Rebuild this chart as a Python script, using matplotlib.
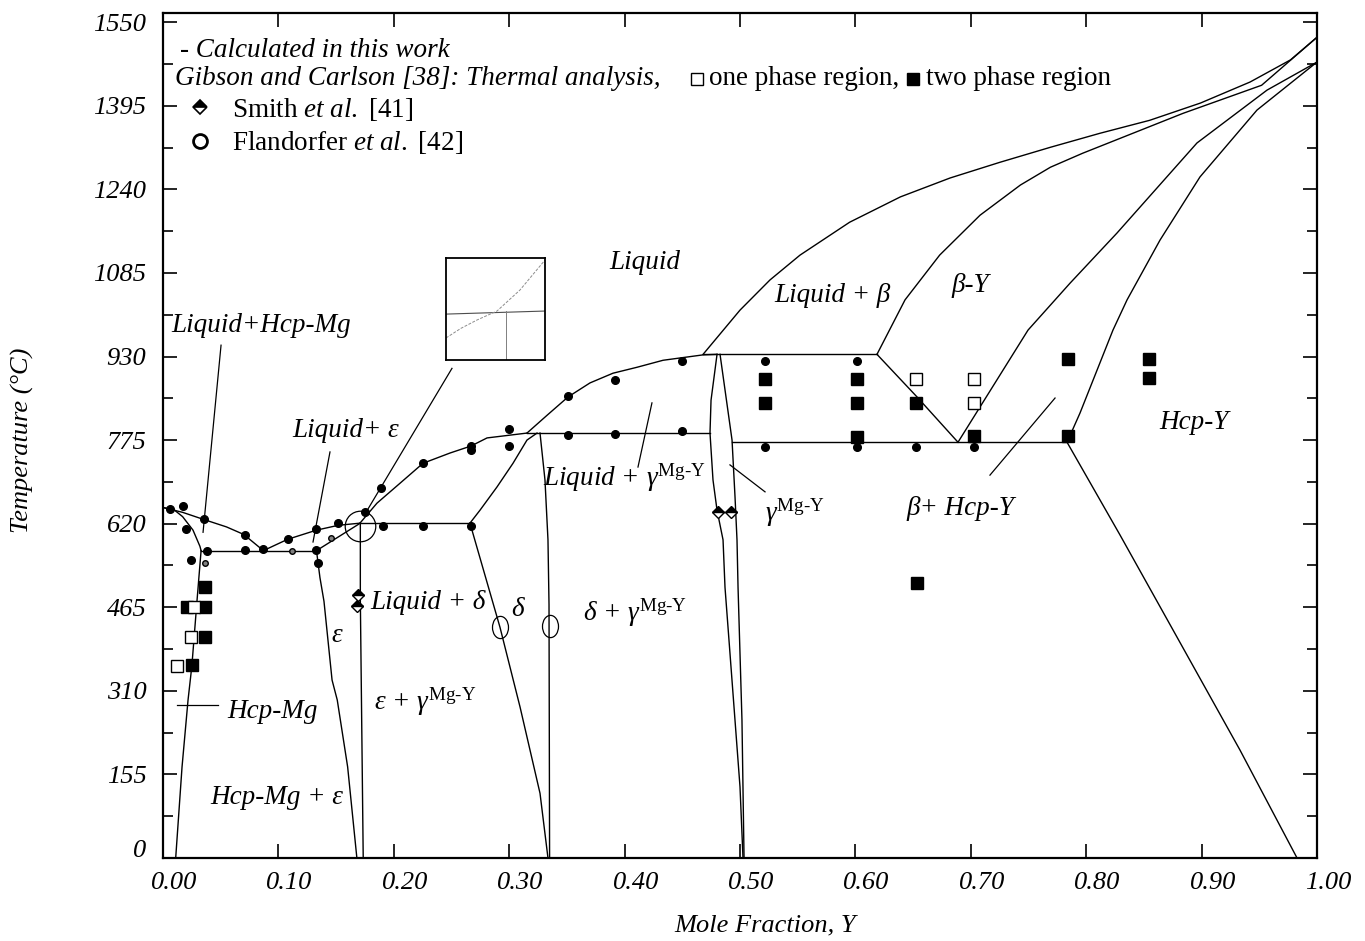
import matplotlib
matplotlib.use('Agg')
import matplotlib.pyplot as plt
import matplotlib.transforms as mtransforms
from matplotlib.path import Path

plt.rcParams['font.family'] = ['Liberation Serif', 'DejaVu Serif']
plt.rcParams['mathtext.fontset'] = 'custom'
plt.rcParams['mathtext.rm'] = 'Liberation Serif'
plt.rcParams['mathtext.it'] = 'Liberation Serif:italic'
plt.rcParams['mathtext.bf'] = 'Liberation Serif:bold'

# ---------------- data ----------------
x_ticks = [0.0, 0.1, 0.2, 0.3, 0.4, 0.5, 0.6, 0.7, 0.8, 0.9, 1.0]
x_tick_labels = ['0.00', '0.10', '0.20', '0.30', '0.40', '0.50', '0.60', '0.70', '0.80', '0.90', '1.00']
y_ticks = [0, 155, 310, 465, 620, 775, 930, 1085, 1240, 1395, 1550]
y_tick_labels = ['0', '155', '310', '465', '620', '775', '930', '1085', '1240', '1395', '1550']
y_minor = [77.5, 232.5, 387.5, 542.5, 697.5, 852.5, 1007.5, 1162.5, 1317.5, 1472.5]

# calculated phase boundaries (mole fraction Y, temperature C)
mg_liq_x = [0.0, 0.017, 0.035, 0.055, 0.070, 0.087]
mg_liq_T = [650, 641, 628, 614, 600, 570]
mg_sol_x = [0.0, 0.010, 0.017, 0.026, 0.032, 0.033]
mg_sol_T = [650, 645, 633, 608, 578, 570]
mg_solvus_x = [0.033, 0.0295, 0.025, 0.0217, 0.0165, 0.011]
mg_solvus_T = [570, 478, 356, 293, 169, 0]
eut1_x = [0.033, 0.133]
eut1_T = [570, 570]
eps_liq_x = [0.087, 0.108, 0.133, 0.152, 0.171]
eps_liq_T = [570, 591, 608, 617, 621]
eps_sol_x = [0.133, 0.171]
eps_sol_T = [570, 621]
eps_left_x = [0.133, 0.136, 0.1395, 0.1465, 0.151, 0.160, 0.168]
eps_left_T = [570, 520, 476, 330, 293, 169, 0]
eps_right_x = [0.171, 0.171, 0.1735]
eps_right_T = [621, 480, 0]
per1_x = [0.171, 0.266]
per1_T = [621, 621]
delta_liq_x = [0.1707, 0.1854, 0.2054, 0.2253, 0.2487, 0.2669, 0.2808, 0.3154]
delta_liq_T = [621, 658, 695, 732, 751, 764, 779, 788]
delta_sol_x = [0.266, 0.2747, 0.2894, 0.3033, 0.3154, 0.3241]
delta_sol_T = [621, 645, 688, 732, 775, 788]
delta_left_x = [0.266, 0.292, 0.3094, 0.3267, 0.3336]
delta_left_T = [621, 428, 280, 120, 0]
delta_right_x = [0.3267, 0.331, 0.3336, 0.3345, 0.335]
delta_right_T = [788, 701, 590, 470, 0]
per2_x = [0.3154, 0.474]
per2_T = [788, 788]
gam_liq_x = [0.3154, 0.3328, 0.3510, 0.3700, 0.3899, 0.4107, 0.4333, 0.4679, 0.4801]
gam_liq_T = [788, 821, 855, 881, 899, 910, 923, 933, 934]
gam_left_x = [0.4801, 0.4749, 0.4740, 0.4766, 0.4801, 0.4853, 0.4870, 0.4913, 0.5000, 0.5026]
gam_left_T = [934, 849, 788, 701, 645, 590, 502, 380, 132, 0]
gam_right_x = [0.4827, 0.4931, 0.4957, 0.4974, 0.4983, 0.5017, 0.5035]
gam_right_T = [934, 775, 669, 590, 502, 256, 0]
eut2_x = [0.468, 0.6187]
eut2_T = [934, 934]
eutd_x = [0.4931, 0.7834]
eutd_T = [771, 771]
beta_liq_x = [0.468, 0.500, 0.526, 0.552, 0.595, 0.639, 0.682, 0.725, 0.769, 0.812, 0.855, 0.899, 0.942, 0.977, 1.0]
beta_liq_T = [934, 1016, 1072, 1118, 1179, 1226, 1261, 1290, 1318, 1344, 1368, 1400, 1439, 1480, 1522]
beta_sol_x = [0.6187, 0.643, 0.673, 0.708, 0.743, 0.769, 0.797, 0.884, 0.952, 1.0]
beta_sol_T = [934, 1035, 1118, 1192, 1248, 1281, 1307, 1381, 1433, 1522]
beta_low_x = [0.6187, 0.6534, 0.6889]
beta_low_T = [934, 855, 771]
beta_hcp_x = [0.6889, 0.7496, 0.786, 0.8267, 0.896, 0.9567, 1.0]
beta_hcp_T = [771, 979, 1066, 1159, 1326, 1424, 1476]
hcp_beta_x = [0.7834, 0.7946, 0.8232, 0.8354, 0.864, 0.8986, 0.948, 1.0]
hcp_beta_T = [771, 825, 979, 1035, 1146, 1263, 1387, 1476]
hcp_solvus_x = [0.7834, 0.8293, 0.8752, 0.9333, 0.9827]
hcp_solvus_T = [771, 599, 423, 200, 0]

# experimental data
gc_dot_x = [0.006, 0.017, 0.0355, 0.020, 0.071, 0.087, 0.038, 0.071, 0.024, 0.108, 0.133, 0.152,
            0.133, 0.134, 0.175, 0.191, 0.225, 0.189, 0.225, 0.267, 0.267, 0.300, 0.300, 0.267,
            0.351, 0.392, 0.450, 0.351, 0.392, 0.450, 0.522, 0.601, 0.522, 0.601, 0.6525, 0.703]
gc_dot_T = [647, 653, 628, 610, 599, 573, 569, 571, 552, 591, 610, 621,
            571, 547, 641, 615, 615, 687, 732, 764, 756, 764, 795, 615,
            857, 886, 922, 784, 786, 792, 922, 922, 762, 762, 762, 762]
gc_small_x = [0.036, 0.112, 0.146]
gc_small_T = [547, 569, 593]
gc_two_x = [0.522, 0.522, 0.601, 0.601, 0.601, 0.6525, 0.703, 0.784, 0.784, 0.854, 0.854, 0.653,
            0.036, 0.021, 0.036, 0.036, 0.025]
gc_two_T = [888, 843, 888, 843, 781, 843, 782, 925, 782, 925, 890, 510,
            502, 465, 465, 409, 357]
gc_one_x = [0.6525, 0.703, 0.703, 0.027, 0.024, 0.012]
gc_one_T = [888, 888, 843, 465, 409, 356]
smith_x = [0.169, 0.168, 0.481, 0.492]
smith_T = [488, 467, 641, 641]
fland_x = [0.292, 0.335]
fland_T = [428, 430]
peritectic_x = [0.1707]
peritectic_T = [616]

# leader lines
leaders = [
    ([0.0347, 0.0503], [604, 951]),
    ([0.0121, 0.0477], [284, 284]),
    ([0.130, 0.1447], [586, 753]),
    ([0.1759, 0.2504], [641, 908]),
    ([0.4116, 0.4237], [725, 844]),
    ([0.4913, 0.5217], [729, 679]),
    ([0.7166, 0.773], [710, 853]),
]

region_labels = [
    ('Liquid', 0.4177, 1105),
    ('Liquid+Hcp-Mg', 0.0849, 988),
    ('Liquid+ ε', 0.158, 792),
    ('Hcp-Mg', 0.0953, 271),
    ('Hcp-Mg + ε', 0.0988, 113),
    ('ε', 0.1508, 412),
    ('Liquid + δ', 0.2296, 473),
    ('δ', 0.3076, 460),
    ('Liquid + β', 0.5797, 1044),
    ('β-Y', 0.6993, 1062),
    ('β+ Hcp-Y', 0.6906, 649),
    ('Hcp-Y', 0.8934, 808),
]
gamma_labels = [
    ('ε + ', 0.227, 276),
    ('δ + ', 0.409, 440),
    ('Liquid + ', 0.3995, 690),
    ('', 0.5477, 625),
]

# inset (schematic zoom of the peritectic), axes units
inset_h_x = [0.0, 1.0]
inset_h_y = [0.45, 0.48]
inset_v_x = [0.606, 0.606]
inset_v_y = [0.0, 0.48]
inset_c_x = [0.0, 0.15, 0.313, 0.515, 0.747, 1.0]
inset_c_y = [0.216, 0.31, 0.392, 0.48, 0.686, 0.98]

# ---------------- figure ----------------
fig = plt.figure(figsize=(13.65, 9.41), dpi=100)
ax = fig.add_axes([163/1365, 83/941, 1154/1365, 845/941])
ax.set_xlim(0, 1)
ax.set_ylim(0, 1567)

lw = 1.0
curves = [
    (mg_liq_x, mg_liq_T), (mg_sol_x, mg_sol_T), (mg_solvus_x, mg_solvus_T), (eut1_x, eut1_T),
    (eps_liq_x, eps_liq_T), (eps_sol_x, eps_sol_T), (eps_left_x, eps_left_T), (eps_right_x, eps_right_T),
    (per1_x, per1_T), (delta_liq_x, delta_liq_T), (delta_sol_x, delta_sol_T),
    (delta_left_x, delta_left_T), (delta_right_x, delta_right_T), (per2_x, per2_T),
    (gam_liq_x, gam_liq_T), (gam_left_x, gam_left_T), (gam_right_x, gam_right_T),
    (eut2_x, eut2_T), (eutd_x, eutd_T), (beta_liq_x, beta_liq_T), (beta_sol_x, beta_sol_T),
    (beta_low_x, beta_low_T), (beta_hcp_x, beta_hcp_T), (hcp_beta_x, hcp_beta_T),
    (hcp_solvus_x, hcp_solvus_T),
]
for cx, cy in curves:
    ax.plot(cx, cy, color='black', lw=lw, solid_joinstyle='round')
for lx, ly in leaders:
    ax.plot(lx, ly, color='black', lw=0.9)

ax.plot(gc_dot_x, gc_dot_T, 'o', color='black', ms=5.5, zorder=5)
ax.plot(gc_small_x, gc_small_T, 'o', mfc='0.5', mec='black', ms=4, zorder=5)
ax.plot(gc_two_x, gc_two_T, 's', color='black', ms=8, zorder=5)
ax.plot(gc_one_x, gc_one_T, 's', mfc='white', mec='black', mew=1.0, ms=8, zorder=6)
ax.plot(smith_x, smith_T, 'D', mfc='black', mec='black', fillstyle='top',
        markerfacecoloralt='white', ms=6, mew=1.0, zorder=6)
ell = Path.unit_circle().transformed(mtransforms.Affine2D().scale(0.72, 1.0))
ax.plot(fland_x, fland_T, linestyle='none', marker=ell, mfc='none', mec='black', mew=0.9, ms=16, zorder=6)
ax.plot(peritectic_x, peritectic_T, 'o', mfc='none', mec='black', mew=0.9, ms=22, zorder=6)

# axes styling
ax.set_xticks(x_ticks)
ax.set_xticklabels(x_tick_labels)
ax.set_yticks(y_ticks)
ax.set_yticklabels(y_tick_labels)
ax.set_yticks(y_minor, minor=True)
ax.tick_params(which='both', direction='in', top=True, right=True, labelsize=19, width=1.2)
ax.tick_params(which='major', length=10)
ax.tick_params(which='minor', length=7)
ax.tick_params(axis='x', pad=10)
ax.tick_params(axis='y', pad=12)
for lbl in ax.get_xticklabels() + ax.get_yticklabels():
    lbl.set_fontstyle('italic')
offset = mtransforms.ScaledTranslation(8/72, 0, fig.dpi_scale_trans)
for lbl in ax.get_xticklabels():
    lbl.set_transform(lbl.get_transform() + offset)
ylbls = ax.get_yticklabels()
ylbls[0].set_transform(ylbls[0].get_transform() + mtransforms.ScaledTranslation(0, 7/72, fig.dpi_scale_trans))
for s in ax.spines.values():
    s.set_linewidth(1.6)

fig.text(22/1365, 1 - 440/941, 'Temperature (°C)', rotation=90, ha='center', va='center',
         fontsize=19, style='italic')
fig.text(765/1365, 1 - 925/941, 'Mole Fraction, Y', ha='center', va='center',
         fontsize=19, style='italic')

# region labels
for txt, lx, ly in region_labels:
    ax.text(lx, ly, txt, ha='center', va='center', fontsize=19.5, style='italic')
for txt, lx, ly in gamma_labels:
    ax.text(lx, ly, txt + r'$\gamma^{\text{Mg-Y}}$', ha='center', va='baseline', fontsize=19.5, style='italic')

# legend block
ax.text(0.0147, 1498, '- Calculated in this work', ha='left', va='center', fontsize=19.5, style='italic')
ax.text(0.0104, 1446, 'Gibson and Carlson [38]: Thermal analysis,', ha='left', va='center', fontsize=19.5, style='italic')
ax.plot([0.463], [1444], 's', mfc='white', mec='black', mew=1.0, ms=8)
ax.text(0.473, 1446, 'one phase region,', ha='left', va='center', fontsize=19.5)
ax.plot([0.650], [1444], 's', color='black', ms=8)
ax.text(0.661, 1446, 'two phase region', ha='left', va='center', fontsize=19.5)
ax.plot([0.032], [1392], 'D', mfc='black', fillstyle='top', markerfacecoloralt='white', mec='black',
        ms=7, mew=1.2)
ax.text(0.0598, 1388, r'Smith $\mathit{et\ al.}$ [41]', ha='left', va='center', fontsize=19.5)
ax.plot([0.032], [1330], 'o', mfc='none', mec='black', mew=2.0, ms=10)
ax.text(0.0598, 1327, r'Flandorfer $\mathit{et\ al.}$ [42]', ha='left', va='center', fontsize=19.5)

# inset
ins = fig.add_axes([446/1365, 1 - 360/941, 99/1365, 102/941])
ins.set_xlim(0, 1)
ins.set_ylim(0, 1)
ins.plot(inset_h_x, inset_h_y, color='0.3', lw=0.8)
ins.plot(inset_v_x, inset_v_y, color='0.5', lw=0.7)
ins.plot(inset_c_x, inset_c_y, color='0.55', lw=0.7, ls=(0, (3, 1.5)))
ins.set_xticks([])
ins.set_yticks([])
for s in ins.spines.values():
    s.set_linewidth(1.3)

fig.savefig('out.png', dpi=100)
